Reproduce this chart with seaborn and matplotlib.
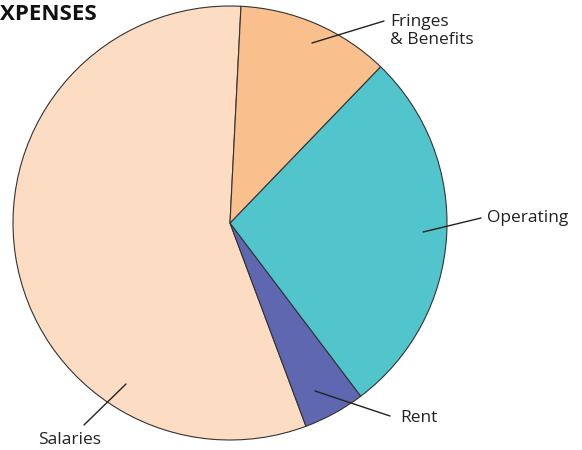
import matplotlib
matplotlib.use("Agg")
import matplotlib.pyplot as plt
import seaborn as sns

sns.set_theme(style="white")
plt.rcParams['font.family'] = ['Open Sans', 'DejaVu Sans']

categories = ["Salaries", "Rent", "Operating", "Fringes\n& Benefits"]
shares = [56.5, 4.6, 27.5, 11.4]
colors = ["#FCDCC3", "#5F67B1", "#52C4CB", "#F9C08D"]

fig = plt.figure(figsize=(5.82, 4.5), dpi=100)
ax = fig.add_axes([0, 0, 1, 1])

# pie in pixel coordinates, y up
cx, cy, r = 230, 450 - 223, 217
ax.pie(shares, colors=colors, startangle=87.1, center=(cx, cy), radius=r,
       wedgeprops=dict(edgecolor="#333333", linewidth=0.8), frame=True)
ax.set_xlim(0, 582)
ax.set_ylim(0, 450)
ax.axis("off")

# leader lines: (point in wedge, end of line, text pos, ha)
leaders = {
    "Salaries": ((126, 384), (84, 425), (70, 440), "center"),
    "Rent": ((315, 391), (390, 416), (400, 418), "left"),
    "Operating": ((423, 232), (481, 218), (487, 218), "left"),
    "Fringes\n& Benefits": ((312, 43), (384, 21), (390, 31), "left"),
}
for name, (p0, p1, tp, ha) in leaders.items():
    ax.plot([p0[0], p1[0]], [450 - p0[1], 450 - p1[1]], color="#222222", lw=1.0)
    ax.text(tp[0], 450 - tp[1], name, ha=ha, va="center", fontsize=12.5,
            color="#222222", linespacing=1.25)

ax.text(0, 450 - 15, "XPENSES", ha="left", va="center", fontsize=16,
        fontweight="bold", color="#111111")

fig.savefig("out.png", dpi=100)
